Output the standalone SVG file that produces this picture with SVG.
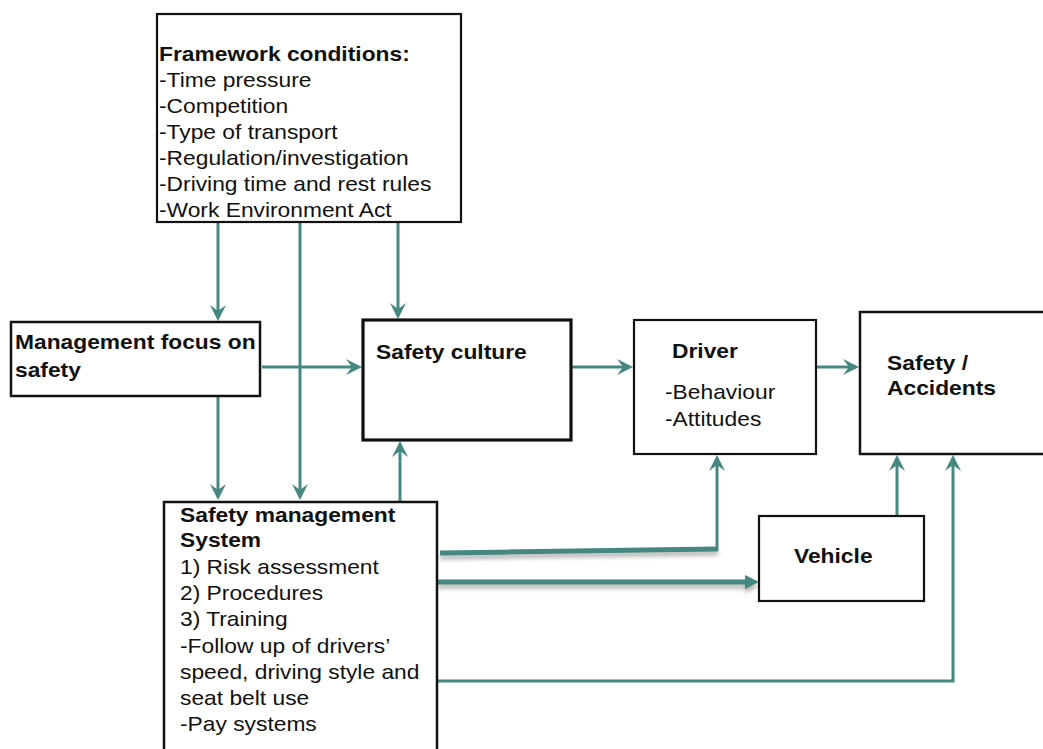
<svg xmlns="http://www.w3.org/2000/svg" width="1043" height="749" viewBox="0 0 1043 749">
<style>
.box{fill:#fff;stroke:#111;stroke-width:2.2}
.t{font-family:"Liberation Sans",Arial,sans-serif;font-size:20px;fill:#111}
.b{font-weight:bold}
.c{fill:none;stroke:#468781;stroke-width:3}
.ct{fill:none;stroke:#458781;stroke-width:5}
</style>
<defs>
<marker id="ah" markerUnits="userSpaceOnUse" markerWidth="18" markerHeight="18" refX="13" refY="8" orient="auto">
<path d="M0,0 L16,8 L0,16 L6,8 Z" fill="#468781"/>
</marker>
<marker id="tri" markerUnits="userSpaceOnUse" markerWidth="16" markerHeight="16" refX="0" refY="7" orient="auto">
<path d="M0,0 L14,7 L0,14 Z" fill="#458781"/>
</marker>
<filter id="sh" filterUnits="userSpaceOnUse" x="400" y="500" width="400" height="120">
<feDropShadow dx="0" dy="4" stdDeviation="2" flood-color="#777" flood-opacity="0.55"/>
</filter>
</defs>
<rect width="1043" height="749" fill="#fff"/>
<g id="connectors">
<path class="c" d="M218,222 V318" marker-end="url(#ah)"/>
<path class="c" d="M300,222 V497" marker-end="url(#ah)"/>
<path class="c" d="M398,222 V316" marker-end="url(#ah)"/>
<path class="c" d="M262,367 H359" marker-end="url(#ah)"/>
<path class="c" d="M218,396 V497" marker-end="url(#ah)"/>
<path class="c" d="M400,501 V444" marker-end="url(#ah)"/>
<path class="c" d="M572,367 H630" marker-end="url(#ah)"/>
<path class="c" d="M816,367 H856" marker-end="url(#ah)"/>
<path class="ct" d="M440,553 L718,549" filter="url(#sh)"/>
<path class="c" d="M717,551 V458" marker-end="url(#ah)"/>
<path class="ct" d="M438,582 H745" filter="url(#sh)" marker-end="url(#tri)"/>
<path class="c" d="M897,516 V458" marker-end="url(#ah)"/>
<path class="c" d="M438,681 H953 V458" marker-end="url(#ah)"/>
</g>
<g id="framework">
<rect class="box" x="157" y="14" width="304" height="208"/>
<text class="t" transform="translate(159,61) scale(1.14,1)"><tspan class="b" x="0" y="0">Framework conditions:</tspan><tspan x="0" y="26">-Time pressure</tspan><tspan x="0" y="52">-Competition</tspan><tspan x="0" y="78">-Type of transport</tspan><tspan x="0" y="104">-Regulation/investigation</tspan><tspan x="0" y="130">-Driving time and rest rules</tspan><tspan x="0" y="156">-Work Environment Act</tspan></text>
</g>
<g id="management-focus">
<rect class="box" x="11" y="322" width="249" height="74" style="stroke-width:2.5"/>
<text class="t b" transform="translate(15,349) scale(1.14,1)"><tspan x="0" y="0">Management focus on</tspan><tspan x="0" y="28">safety</tspan></text>
</g>
<g id="safety-culture">
<rect class="box" x="363" y="320" width="208" height="120" style="stroke-width:3.2"/>
<text class="t b" transform="translate(376,359) scale(1.14,1)">Safety culture</text>
</g>
<g id="driver">
<rect class="box" x="634" y="320" width="182" height="134"/>
<text class="t b" transform="translate(672,358) scale(1.14,1)">Driver</text>
<text class="t" transform="translate(665,399) scale(1.14,1)"><tspan x="0" y="0">-Behaviour</tspan><tspan x="0" y="27">-Attitudes</tspan></text>
</g>
<g id="safety-accidents">
<rect class="box" x="860" y="312" width="200" height="142" style="stroke-width:2.5"/>
<text class="t b" transform="translate(887,370) scale(1.14,1)"><tspan x="0" y="0">Safety /</tspan><tspan x="0" y="25">Accidents</tspan></text>
</g>
<g id="vehicle">
<rect class="box" x="759" y="516" width="165" height="85"/>
<text class="t b" transform="translate(794,563) scale(1.14,1)">Vehicle</text>
</g>
<g id="sms">
<rect class="box" x="164" y="502" width="273" height="270" style="stroke-width:2.5"/>
<text class="t" transform="translate(180,522) scale(1.14,1)"><tspan class="b" x="0" y="0">Safety management</tspan><tspan class="b" x="0" y="25">System</tspan><tspan x="0" y="52">1) Risk assessment</tspan><tspan x="0" y="78">2) Procedures</tspan><tspan x="0" y="104">3) Training</tspan><tspan x="0" y="131">-Follow up of drivers’</tspan><tspan x="0" y="157">speed, driving style and</tspan><tspan x="0" y="183">seat belt use</tspan><tspan x="0" y="209">-Pay systems</tspan></text>
</g>
</svg>
